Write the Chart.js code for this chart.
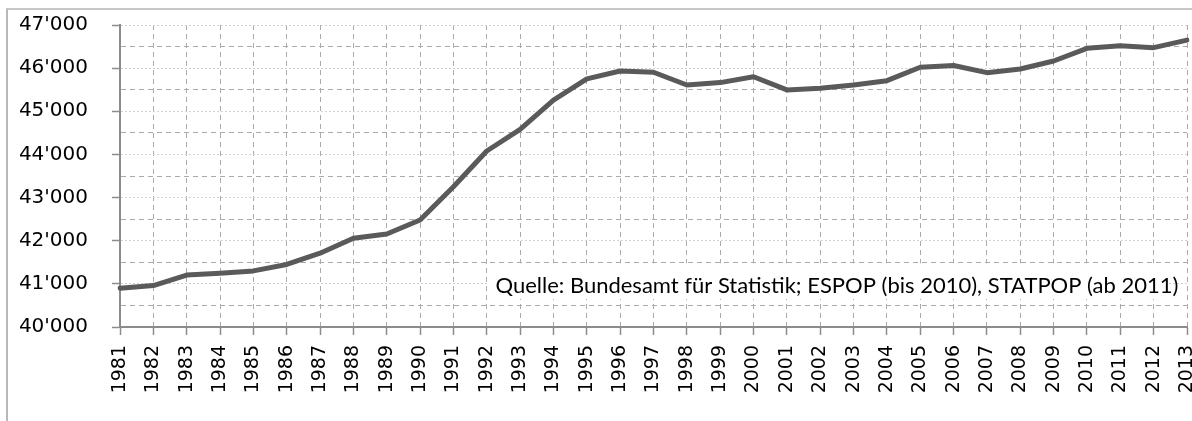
<!DOCTYPE html>
<html>
<head>
<meta charset="utf-8">
<script src="https://cdn.jsdelivr.net/npm/chart.js@4/dist/chart.umd.min.js"></script>
<style>
  html, body { margin: 0; padding: 0; background: #fff; }
  #wrap { position: relative; width: 1192px; height: 421px; }
  #frame {
    position: absolute; left: 6px; top: 8px; right: 0; bottom: 0;
    border-left: 2px solid #b8b8b8; border-top: 2px solid #c8c8c8;
    pointer-events: none;
  }
</style>
</head>
<body>
<div id="wrap">
  <canvas id="chart" width="1192" height="421"></canvas>
  <div id="frame"></div>
</div>
<script>
const years = [
  '1981','1982','1983','1984','1985','1986','1987','1988','1989','1990',
  '1991','1992','1993','1994','1995','1996','1997','1998','1999','2000',
  '2001','2002','2003','2004','2005','2006','2007','2008','2009','2010',
  '2011','2012','2013'
];
const population = [
  40900, 40960, 41205, 41245, 41300, 41450, 41710, 42055, 42155, 42480,
  43250, 44080, 44580, 45260, 45750, 45935, 45905, 45610, 45665, 45800,
  45495, 45535, 45610, 45710, 46020, 46060, 45895, 45980, 46165, 46460,
  46520, 46475, 46650
];
const yMin = 40000;
const yMax = 47000;
const yStep = 500;
const sourceNote = 'Quelle: Bundesamt für Statistik; ESPOP (bis 2010), STATPOP (ab 2011)';

function formatThousands(v) {
  const k = Math.floor(v / 1000);
  const rest = String(v % 1000).padStart(3, '0');
  return k + "'" + rest;
}

function isMajor(ctx) {
  return ctx.tick && ctx.tick.value % 1000 === 0;
}

// white box with source text, placed in the lower right of the plot
const sourceBox = {
  id: 'sourceBox',
  afterDatasetsDraw(chart) {
    const { ctx, chartArea, scales } = chart;
    const left = scales.x.getPixelForValue(11) + 2;
    const right = chartArea.right - 20;
    const top = scales.y.getPixelForValue(41500) + 1;
    const bottom = scales.y.getPixelForValue(40650);
    ctx.save();
    ctx.fillStyle = '#fff';
    ctx.fillRect(left, top, right - left, bottom - top);
    ctx.fillStyle = '#000';
    ctx.font = '22px Lato, "Open Sans", sans-serif';
    ctx.textAlign = 'center';
    ctx.textBaseline = 'middle';
    ctx.fillText(sourceNote, (left + chartArea.right - 10) / 2 + 4, (top + bottom) / 2 + 5);
    ctx.restore();
  }
};

new Chart(document.getElementById('chart'), {
  type: 'line',
  data: {
    labels: years,
    datasets: [{
      data: population,
      borderColor: '#5a5a5a',
      borderWidth: 5,
      pointRadius: 0,
      tension: 0,
      borderCapStyle: 'round',
      borderJoinStyle: 'round'
    }]
  },
  options: {
    responsive: false,
    animation: false,
    devicePixelRatio: 1,
    layout: { padding: { top: 25, left: 0, right: 5, bottom: 0 } },
    plugins: { legend: { display: false }, tooltip: { enabled: false } },
    scales: {
      x: {
        offset: false,
        grid: {
          color: '#ababab',
          lineWidth: 1,
          tickLength: 8,
          tickColor: '#8c8c8c',
          tickWidth: 1.5,
          tickBorderDash: []
        },
        border: {
          color: '#8c8c8c',
          width: 2,
          dash: ctx => ctx.tick ? [5, 4] : []
        },
        ticks: {
          autoSkip: false,
          minRotation: 90,
          maxRotation: 90,
          padding: 10,
          color: '#000',
          font: { family: '"DejaVu Sans"', size: 19 }
        },
        afterFit(scale) {
          scale.height = 94;
          scale.paddingLeft = 0;
          scale.paddingRight = 0;
        }
      },
      y: {
        min: yMin,
        max: yMax,
        grid: {
          color: ctx => isMajor(ctx) ? '#d2d2d2' : '#ababab',
          lineWidth: 1,
          tickLength: 8,
          tickColor: ctx => isMajor(ctx) ? '#8c8c8c' : 'rgba(0,0,0,0)',
          tickWidth: 1.5,
          tickBorderDash: []
        },
        border: {
          color: '#8c8c8c',
          width: 2,
          dash: ctx => !ctx.tick ? [] : (isMajor(ctx) ? [2, 2] : [5, 4])
        },
        ticks: {
          stepSize: yStep,
          autoSkip: false,
          padding: 24,
          color: '#000',
          font: { family: '"DejaVu Sans"', size: 20 },
          callback: v => v % 1000 === 0 ? formatThousands(v) : ''
        },
        afterFit(scale) {
          scale.width = 120;
          scale.paddingTop = 0;
          scale.paddingBottom = 0;
        }
      }
    }
  },
  plugins: [sourceBox]
});
</script>
</body>
</html>
